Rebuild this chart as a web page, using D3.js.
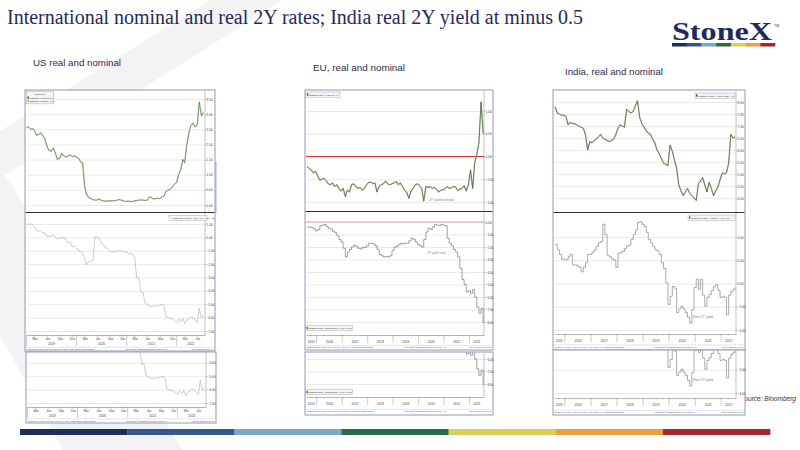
<!DOCTYPE html>
<html>
<head>
<meta charset="utf-8">
<script src="https://cdn.jsdelivr.net/npm/d3@7"></script>
<style>
  body { margin: 0; background: #fff; }
  svg { display: block; }
</style>
</head>
<body>
<div id="chart"></div>
<script>
// ---------- data ----------
// US: 1st and 15th of each month, Jan 2019 - Jul 2022
const usNominal = [
  2.55, 2.58, 2.50, 2.52, 2.46, 2.30, 2.33, 2.38, 2.28, 2.18, 1.92, 1.80,
  1.78, 1.88, 1.70, 1.50, 1.55, 1.70, 1.62, 1.58, 1.62, 1.65, 1.60, 1.62,
  1.58, 1.55, 1.42, 1.38, 0.60, 0.35, 0.24, 0.21, 0.18, 0.16, 0.17, 0.20,
  0.15, 0.14, 0.12, 0.14, 0.13, 0.14, 0.14, 0.15, 0.18, 0.17, 0.15, 0.12,
  0.12, 0.13, 0.11, 0.12, 0.14, 0.15, 0.16, 0.17, 0.16, 0.15, 0.16, 0.26,
  0.25, 0.20, 0.21, 0.22, 0.21, 0.27, 0.30, 0.45, 0.50, 0.52, 0.60, 0.68,
  0.75, 1.00, 1.18, 1.50, 1.40, 1.95, 2.40, 2.62, 2.70, 2.58, 2.65, 3.40,
  2.95, 3.05
];
const usReal = [
  0.95, 1.00, 1.00, 0.95, 0.75, 0.55, 0.45, 0.50, 0.30, 0.35, 0.05, 0.10,
  0.10, 0.20, 0.00, -0.10, -0.05, 0.00, -0.05, -0.10, -0.40, -0.35, -0.70, -0.65,
  -0.85, -0.90, -1.10, -1.15, -1.60, -2.05, -1.80, -1.75, -1.70, 0.05, 0.05, -0.05,
  -0.45, -0.50, -0.80, -0.85, -1.05, -1.10, -1.10, -1.05, -1.00, -1.00, -1.05, -1.10,
  -1.10, -1.20, -1.20, -1.25, -1.50, -3.00, -3.05, -4.10, -4.10, -4.95, -5.00, -5.15,
  -5.20, -5.15, -5.10, -5.12, -5.05, -5.00, -5.10, -5.95, -6.00, -6.05, -6.10, -6.20,
  -6.35, -6.10, -6.30, -6.05, -6.45, -6.20, -6.10, -5.95, -6.00, -6.20, -6.35, -5.30,
  -6.05, -5.80
];
const usNominalTicks = [3.5, 3, 2.5, 2, 1.5, 1, 0.5, 0];
const usRealTicks = [1, 0, -1, -2, -3, -4, -5, -6, -7];
const usCropTicks = [-4, -5, -6, -7];

// EU: monthly, Aug 2015 - Jul 2022
const euNominal = [
  -0.22, -0.26, -0.30, -0.36, -0.33,
  -0.42, -0.52, -0.50, -0.48, -0.53, -0.60, -0.62, -0.58, -0.66, -0.62, -0.70, -0.76,
  -0.70, -0.88, -0.74, -0.78, -0.62, -0.60, -0.66, -0.70, -0.68, -0.74, -0.70, -0.62,
  -0.57, -0.56, -0.60, -0.58, -0.78, -0.66, -0.62, -0.60, -0.54, -0.60, -0.62, -0.60,
  -0.58, -0.55, -0.62, -0.58, -0.66, -0.74, -0.78, -0.92, -0.76, -0.70, -0.62, -0.60,
  -0.64, -0.70, -0.98, -0.66, -0.68, -0.66, -0.70, -0.68, -0.72, -0.78, -0.74, -0.73,
  -0.71, -0.66, -0.70, -0.69, -0.66, -0.67, -0.75, -0.72, -0.70, -0.64, -0.76, -0.62,
  -0.30, -0.70, -0.15, 0.05, 0.30, 1.20, 0.50
];
const euReal = [
  -0.40, -0.40, -0.45, -0.55, -0.70,
  -0.60, -0.30, -0.25, -0.20, -0.35, -0.50, -0.55, -0.75, -0.85, -1.10, -1.40, -1.60,
  -2.10, -2.80, -2.40, -2.20, -2.00, -1.85, -1.95, -2.10, -2.15, -2.00, -2.05, -1.90,
  -1.70, -1.70, -1.75, -1.90, -2.20, -2.60, -2.70, -2.80, -2.75, -2.80, -2.70, -2.30,
  -2.00, -1.95, -1.80, -1.70, -1.75, -1.70, -1.70, -1.50, -1.30, -1.40, -1.60, -1.80,
  -1.90, -2.00, -1.40, -0.80, -0.50, -0.60, -0.40, -0.20, -0.25, -0.30, -0.20, -0.25,
  -0.30, -1.30, -1.70, -1.90, -2.20, -2.40, -2.80, -3.70, -4.60, -5.00, -5.60, -5.50,
  -5.70, -5.40, -6.00, -6.80, -7.30, -6.90, -8.10
];
const euNominalTicks = [1, 0.5, 0, -0.5, -1];
const euRealTicks = [0, -1, -2, -3, -4, -5, -6, -7, -8];
const euCropTicks = [-6, -7, -8];

// India: monthly, Aug 2015 - Jul 2022
const inNominal = [
  7.80, 7.55, 7.50, 7.45, 7.45,
  7.40, 7.05, 7.15, 7.10, 7.10, 7.05, 7.00, 6.95, 6.90, 6.65, 6.00, 6.35,
  6.30, 6.40, 6.45, 6.55, 6.65, 6.50, 6.45, 6.40, 6.35, 6.40, 6.45, 6.65,
  6.90, 7.05, 7.00, 6.95, 7.70, 7.60, 7.55, 7.60, 7.85, 8.05, 7.35, 7.10,
  6.95, 6.80, 6.70, 6.65, 6.45, 6.30, 6.00, 5.85, 5.65, 5.45, 5.40, 5.35,
  6.20, 5.95, 5.60, 5.25, 4.55, 4.30, 4.10, 4.25, 4.40, 4.20, 4.10, 4.00,
  3.90, 4.60, 4.70, 4.85, 4.55, 4.25, 4.65, 4.40, 4.10, 4.30, 4.45, 4.75,
  5.05, 5.00, 5.05, 5.45, 6.65, 6.50, 6.55
];
const inReal = [
  3.35, 2.90, 2.50, 2.10, 2.05,
  2.05, 2.30, 2.50, 1.60, 1.60, 1.50, 1.40, 1.00, 1.40, 1.80, 2.50, 2.50,
  2.70, 2.90, 3.20, 3.50, 3.60, 5.10, 4.20, 2.40, 2.30, 2.10, 2.00, 1.40,
  2.60, 2.70, 2.75, 3.00, 3.20, 3.30, 3.80, 4.20, 4.60, 5.25, 5.30, 5.10,
  4.90, 4.40, 3.80, 3.50, 3.20, 2.90, 2.80, 2.50, 1.80, 1.30, 0.05, -1.80,
  -1.10, -0.25, -0.40, -2.50, -2.20, -1.95, -2.20, -2.50, -2.90, -3.40, -2.25, -0.35,
  0.35, -0.50, 0.35, -1.00, -1.95, -1.20, -0.95, -0.60, -0.25, -0.10, -0.60, -1.20,
  -1.10, -1.20, -2.70, -1.00, -0.70, -0.50, -0.35
];
const inNominalTicks = [8, 7.5, 7, 6.5, 6, 5.5, 5, 4.5, 4];
const inRealTicks = [4, 2, 0, -2, -4];
const inCropTicks = [-2, -4];

const stripeColors = ["#1f2d5a", "#34588a", "#7ba7c8", "#2b6b48", "#dbd053", "#eaa23a", "#a8262e"];

// dates for the series
const usDates = d3.timeMonth.range(new Date(2019, 0, 1), new Date(2022, 7, 1))
  .flatMap(m => [m, d3.timeDay.offset(m, 14)]);
const monthlyDates = d3.timeMonth.range(new Date(2015, 7, 1), new Date(2022, 7, 1))
  .map(m => d3.timeDay.offset(m, 14));

// ---------- page ----------
const FONT = "'Liberation Sans', Arial, sans-serif";
const NAVY = "#1f2b5b";
const fmt = d3.format(".2f");

const svg = d3.select("#chart").append("svg")
  .attr("width", 800)
  .attr("height", 450);

svg.append("rect").attr("width", 800).attr("height", 450).attr("fill", "#fff");

// faint watermark chevron
svg.append("polygon")
  .attr("points", "210,0 283,0 5,175 183,450 63,450 0,335 0,131")
  .attr("fill", "#f3f3f3");

// title
svg.append("text")
  .attr("x", 7).attr("y", 24)
  .attr("font-family", "'Liberation Serif', 'Times New Roman', serif")
  .attr("font-size", 20.5)
  .attr("fill", NAVY)
  .attr("textLength", 576)
  .attr("lengthAdjust", "spacingAndGlyphs")
  .text("International nominal and real 2Y rates; India real 2Y yield at minus 0.5");

// logo
svg.append("text")
  .attr("x", 672).attr("y", 40)
  .attr("font-family", "'Liberation Serif', 'Times New Roman', serif")
  .attr("font-weight", "bold")
  .attr("font-size", 25)
  .attr("fill", NAVY)
  .attr("textLength", 100)
  .attr("lengthAdjust", "spacingAndGlyphs")
  .text("StoneX");
svg.append("text").attr("x", 774).attr("y", 27).attr("font-size", 3.5)
  .attr("font-family", FONT).attr("fill", NAVY).text("TM");

function stripe(x0, x1, y, h) {
  const sx = d3.scaleBand().domain(d3.range(stripeColors.length)).range([x0, x1]);
  svg.append("g").selectAll("rect")
    .data(stripeColors)
    .join("rect")
    .attr("x", (d, i) => sx(i))
    .attr("y", y)
    .attr("width", sx.bandwidth() + 0.3)
    .attr("height", h)
    .attr("fill", d => d);
}
stripe(672, 775, 43, 3.5);
stripe(20, 770, 429, 6);

// sub titles
const subs = [
  { x: 33, y: 66, w: 88, t: "US real and nominal" },
  { x: 313, y: 71, w: 92, t: "EU, real and nominal" },
  { x: 565, y: 75, w: 98, t: "India, real and nominal" }
];
svg.append("g").selectAll("text")
  .data(subs)
  .join("text")
  .attr("x", d => d.x).attr("y", d => d.y)
  .attr("font-family", FONT)
  .attr("font-size", 9.5)
  .attr("fill", "#1f2d4f")
  .attr("textLength", d => d.w)
  .attr("lengthAdjust", "spacingAndGlyphs")
  .text(d => d.t);

// source note (partly hidden behind India chart, as in the slide)
svg.append("text")
  .attr("x", 740).attr("y", 401)
  .attr("font-family", FONT)
  .attr("font-style", "italic")
  .attr("font-size", 7)
  .attr("fill", "#333")
  .attr("textLength", 56)
  .attr("lengthAdjust", "spacingAndGlyphs")
  .text("Source: Bloomberg");

// ---------- helpers ----------
let clipN = 0;

function box(x, y, w, h) {
  svg.append("rect")
    .attr("x", x).attr("y", y).attr("width", w).attr("height", h)
    .attr("fill", "#fff")
    .attr("stroke", "#8f98b8")
    .attr("stroke-width", 1);
}

function plot(p) {
  const g = svg.append("g");
  const w = p.right - p.left;
  const yAxis = d3.axisRight(p.y)
    .tickValues(p.ticks)
    .tickSize(-w)
    .tickPadding(1.6)
    .tickFormat(fmt);
  const ga = g.append("g")
    .attr("transform", "translate(" + p.right + ",0)")
    .call(yAxis);
  ga.select(".domain").remove();
  ga.selectAll(".tick line").attr("stroke", "#dcdcdc").attr("stroke-width", 0.6);
  ga.selectAll(".tick text")
    .attr("font-size", 3.1)
    .attr("fill", "#333")
    .attr("font-family", FONT);
  ga.selectAll(".tick").append("line")
    .attr("x1", 0).attr("x2", 1.2)
    .attr("stroke", "#555").attr("stroke-width", 0.4);

  g.append("line")
    .attr("x1", p.right).attr("x2", p.right)
    .attr("y1", p.top).attr("y2", p.bottom)
    .attr("stroke", "#9a9a9a").attr("stroke-width", 0.6);

  const id = "clip" + clipN++;
  svg.append("clipPath").attr("id", id)
    .append("rect")
    .attr("x", p.left).attr("y", p.top)
    .attr("width", w).attr("height", p.bottom - p.top);
  return g.append("g").attr("clip-path", "url(#" + id + ")");
}

function series(layer, dates, values, x, y, st) {
  const pts = dates.map((d, i) => [d, values[i]]);
  const line = d3.line()
    .x(d => x(d[0]))
    .y(d => y(d[1]))
    .curve(st.curve || d3.curveLinear);
  if (st.halo) {
    layer.append("path").datum(pts)
      .attr("d", line)
      .attr("fill", "none")
      .attr("stroke", st.halo)
      .attr("stroke-width", st.width + 0.8)
      .attr("stroke-linejoin", "round");
  }
  layer.append("path").datum(pts)
    .attr("d", line)
    .attr("fill", "none")
    .attr("stroke", st.color)
    .attr("stroke-width", st.width)
    .attr("stroke-linejoin", "round");
}

function zeroLine(layer, x, y, color, width) {
  const [d0, d1] = x.domain();
  layer.append("line")
    .attr("x1", x(d0) - 2).attr("x2", x(d1) + 2)
    .attr("y1", y(0)).attr("y2", y(0))
    .attr("stroke", color).attr("stroke-width", width);
}

function timeAxis(p) {
  const g = svg.append("g").attr("font-family", FONT);
  const [d0, d1] = p.x.domain();
  const minor = d3.axisBottom(p.x)
    .ticks(d3.timeMonth.every(p.months ? 1 : 3))
    .tickSize(1.3)
    .tickSizeOuter(0)
    .tickFormat("");
  const gm = g.append("g").attr("transform", "translate(0," + p.y + ")").call(minor);
  gm.select(".domain").attr("stroke", "#888").attr("stroke-width", 0.6);
  gm.selectAll(".tick line").attr("stroke", "#888").attr("stroke-width", 0.4);

  if (p.months) {
    const q = d3.axisBottom(p.x)
      .tickValues(d3.timeMonth.range(new Date(2019, 2, 1), d1, 3))
      .tickSize(2.2)
      .tickPadding(0.8)
      .tickSizeOuter(0)
      .tickFormat(d3.timeFormat("%b"));
    const gq = g.append("g").attr("transform", "translate(0," + p.y + ")").call(q);
    gq.select(".domain").remove();
    gq.selectAll(".tick line").attr("stroke", "#888").attr("stroke-width", 0.4);
    gq.selectAll(".tick text").attr("font-size", 3).attr("fill", "#444").attr("font-family", FONT);
  }

  // year separators
  g.selectAll("line.sep")
    .data(d3.timeYear.range(d3.timeYear.ceil(d0), d1))
    .join("line")
    .attr("class", "sep")
    .attr("x1", d => p.x(d)).attr("x2", d => p.x(d))
    .attr("y1", p.y).attr("y2", p.y + p.sepLen)
    .attr("stroke", "#999").attr("stroke-width", 0.5);

  // year labels centred in each visible year span
  g.selectAll("text.yr")
    .data(d3.timeYear.range(d3.timeYear.floor(d0), d1))
    .join("text")
    .attr("class", "yr")
    .attr("x", d => (Math.max(p.x(d), p.x(d0)) + Math.min(p.x(d3.timeYear.offset(d, 1)), p.x(d1))) / 2)
    .attr("y", p.yearY)
    .attr("text-anchor", "middle")
    .attr("font-size", 3.2)
    .attr("fill", "#444")
    .text(d => d.getFullYear());
}

function footer(left, right, y, txt) {
  const g = svg.append("g").attr("font-family", FONT).attr("font-size", 2.3).attr("fill", "#555");
  g.append("line").attr("x1", left).attr("x2", right).attr("y1", y - 2.6).attr("y2", y - 2.6)
    .attr("stroke", "#bbb").attr("stroke-width", 0.4);
  g.append("text").attr("x", left + 1).attr("y", y).text(txt);
  g.append("text").attr("x", left + (right - left) * 0.64).attr("y", y).attr("text-anchor", "middle")
    .text("Copyright\u00a9 2022 Bloomberg Finance L.P.");
  g.append("text").attr("x", right - 1).attr("y", y).attr("text-anchor", "end")
    .text("27-Jul-2022 10:01:54");
}

function legendBox(x, y, w, rows) {
  const rowH = 3.6;
  const g = svg.append("g").attr("font-family", FONT).attr("font-size", 2.4).attr("fill", "#333");
  g.append("rect")
    .attr("x", x).attr("y", y).attr("width", w).attr("height", rows.length * rowH + 1.6)
    .attr("fill", "#f4f4f4").attr("stroke", "#999").attr("stroke-width", 0.4);
  rows.forEach((r, i) => {
    const ry = y + 0.8 + i * rowH;
    if (r.color) {
      g.append("rect").attr("x", x + 1).attr("y", ry + 0.5).attr("width", 1.4).attr("height", 2.4).attr("fill", r.color);
    }
    g.append("text")
      .attr("x", r.center ? x + w / 2 : x + 3)
      .attr("y", ry + 2.7)
      .attr("text-anchor", r.center ? "middle" : "start")
      .text(r.text);
  });
}

function note(x, y, txt, color) {
  svg.append("text")
    .attr("x", x).attr("y", y)
    .attr("font-family", FONT).attr("font-size", 3.4)
    .attr("fill", color || "#777")
    .text(txt);
}

function separator(x0, x1, y) {
  svg.append("line")
    .attr("x1", x0).attr("x2", x1).attr("y1", y).attr("y2", y)
    .attr("stroke", "#333").attr("stroke-width", 1.2);
}

const nominalStyle = { color: "#34482a", halo: "#b9cda6", width: 0.6 };

// ---------- US ----------
const usX = d3.scaleTime().domain([new Date(2019, 0, 1), new Date(2022, 6, 27)]).range([26.5, 205]);
const usYtop = d3.scaleLinear().domain([3.5, 0]).range([99, 205]);
const usYlow = d3.scaleLinear().domain([1, -7]).range([224, 331]);
const usFoot = "USGG2YR Index (US Gen Govt 2Y) Daily 02JAN2019-27JUL2022";

box(25, 90, 190, 261);
let layer = plot({ left: 26, right: 205, top: 91, bottom: 212, y: usYtop, ticks: usNominalTicks });
series(layer, usDates, usNominal, usX, usYtop, { color: "#4a6f40", halo: "#c3d8b6", width: 0.6 });
layer = plot({ left: 26, right: 205, top: 213, bottom: 335, y: usYlow, ticks: usRealTicks });
series(layer, usDates, usReal, usX, usYlow, { color: "#a9a9a9", width: 0.6 });
separator(25.5, 214.5, 212.5);
timeAxis({ x: usX, y: 335, months: true, yearY: 345, sepLen: 11 });
footer(25.5, 214.5, 349.8, usFoot);
legendBox(26.5, 91.5, 27, [
  { text: "Last Price", center: true },
  { color: "#3c5a2e", text: "USGG2YR Index  2.98" },
  { color: "#e8a33a", text: "USGG2YR Cmdty  -6.04" }
]);
legendBox(169, 215.5, 38, [{ text: "TUSGG2YR Index - CPI YOY  -6.24  -.05" }]);
svg.append("line").attr("x1", 216).attr("x2", 216).attr("y1", 162).attr("y2", 213)
  .attr("stroke", "#8f98b8").attr("stroke-width", 0.8);

// US crop (lower part of the real-yield panel repeated)
const usXcrop = usX.copy().range([27.5, 206]);
const usYcrop = usYlow.copy().range([296, 403]);
box(26, 352, 190, 71);
layer = plot({ left: 27, right: 206, top: 352.5, bottom: 407, y: usYcrop, ticks: usCropTicks });
series(layer, usDates, usReal, usXcrop, usYcrop, { color: "#a9a9a9", width: 0.6 });
timeAxis({ x: usXcrop, y: 407, months: true, yearY: 417, sepLen: 11 });
footer(26.5, 215.5, 421.5, usFoot);

// ---------- EU ----------
const euX = d3.scaleTime().domain([new Date(2015, 7, 1), new Date(2022, 6, 27)]).range([306, 484]);
const euYtop = d3.scaleLinear().domain([1, -1]).range([111, 202]);
const euYlow = d3.scaleLinear().domain([0, -8]).range([222, 322]);
const euFoot = "GDBR2 Index (Euro Gen Govt 2Y) Daily 01AUG2015-27JUL2022";

box(305, 90, 188, 260);
layer = plot({ left: 306, right: 484, top: 91, bottom: 211, y: euYtop, ticks: euNominalTicks });
zeroLine(layer, euX, euYtop, "#e0322f", 1);
series(layer, monthlyDates, euNominal, euX, euYtop, nominalStyle);
layer = plot({ left: 306, right: 484, top: 212, bottom: 335, y: euYlow, ticks: euRealTicks });
zeroLine(layer, euX, euYlow, "#e58a8a", 0.8);
series(layer, monthlyDates, euReal, euX, euYlow, { color: "#555", width: 0.55, curve: d3.curveStepAfter });
separator(305.5, 492.5, 211.5);
timeAxis({ x: euX, y: 335, months: false, yearY: 342.5, sepLen: 8 });
footer(305.5, 492.5, 348, euFoot);
legendBox(306, 92, 34, [{ color: "#3c5a2e", text: "GDBR2 Index - Last  0.5  +0" }]);
legendBox(305.5, 325.5, 47, [{ color: "#555", text: "GDBR2 Index - ECCPEMUY  -8.26  +0.07" }]);
note(euX(new Date(2020, 5, 1)), euYtop(-0.97), "2Y yield nominal", "#888");
note(euX(new Date(2020, 4, 1)), euYlow(-2.55), "2Y yield real", "#888");

// EU crop
const euYcrop = euYlow.copy().range([284, 384]);
box(305, 352, 188, 63);
layer = plot({ left: 306, right: 484, top: 352.5, bottom: 397, y: euYcrop, ticks: euCropTicks });
series(layer, monthlyDates, euReal, euX, euYcrop, { color: "#555", width: 0.55, curve: d3.curveStepAfter });
timeAxis({ x: euX, y: 397, months: false, yearY: 404.5, sepLen: 8 });
footer(305.5, 492.5, 412, euFoot);
legendBox(305.5, 389.5, 47, [{ color: "#555", text: "GDBR2 Index - ECCPEMUY  -8.26  +0.07" }]);

// ---------- India ----------
const inX = d3.scaleTime().domain([new Date(2015, 7, 1), new Date(2022, 6, 27)]).range([554, 736]);
const inYtop = d3.scaleLinear().domain([8, 4]).range([102, 198]);
const inYlow = d3.scaleLinear().domain([4, -4]).range([237, 330]);
const inFoot = "GIND2YR Index (India Govt 2Y Yield) Daily 01AUG2015-27JUL2022";

box(553, 90, 192, 260);
layer = plot({ left: 554, right: 736, top: 91, bottom: 212, y: inYtop, ticks: inNominalTicks });
series(layer, monthlyDates, inNominal, inX, inYtop, nominalStyle);
layer = plot({ left: 554, right: 736, top: 213, bottom: 334, y: inYlow, ticks: inRealTicks });
series(layer, monthlyDates, inReal, inX, inYlow, { color: "#666", width: 0.55, curve: d3.curveStepAfter });
separator(553.5, 744.5, 212.5);
timeAxis({ x: inX, y: 334, months: false, yearY: 341.5, sepLen: 8 });
footer(553.5, 744.5, 347.5, inFoot);
legendBox(695, 93, 40, [{ color: "#3c5a2e", text: "GIND2YR Index - Last  6.583  +.07" }]);
legendBox(688, 215, 47, [{ color: "#666", text: "GIND2YR Index - (INCPI)  -0.45  -.01" }]);
note(inX(new Date(2020, 11, 1)), inYlow(-3.0), "Real 2Y yield", "#6f82a8");

// India crop
const inYcrop = inYlow.copy().range([300, 393]);
box(553, 350, 192, 65);
layer = plot({ left: 554, right: 736, top: 350.5, bottom: 398, y: inYcrop, ticks: inCropTicks });
series(layer, monthlyDates, inReal, inX, inYcrop, { color: "#666", width: 0.55, curve: d3.curveStepAfter });
timeAxis({ x: inX, y: 398, months: false, yearY: 405.5, sepLen: 8 });
footer(553.5, 744.5, 413, inFoot);
note(inX(new Date(2020, 11, 1)), inYcrop(-3.0), "Real 2Y yield", "#6f82a8");
</script>
</body>
</html>
